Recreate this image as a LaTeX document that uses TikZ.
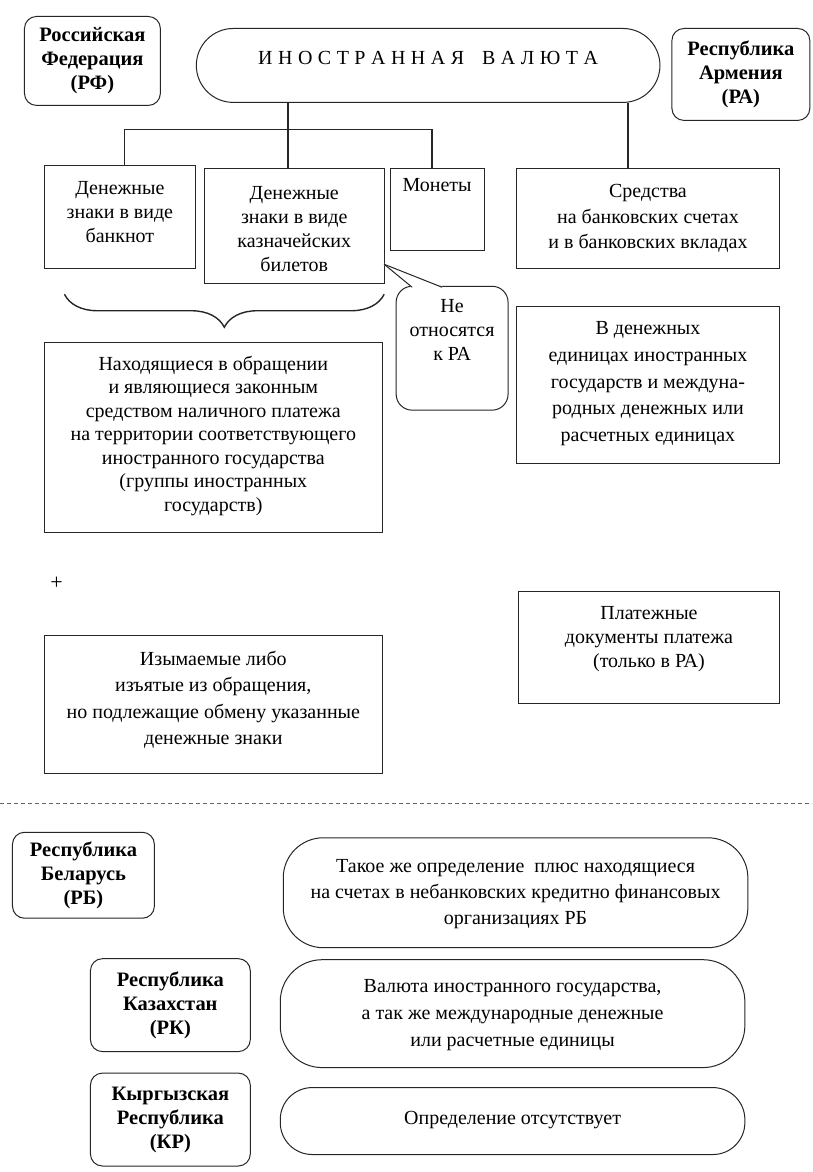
\documentclass[tikz,border=0pt]{standalone}
\usepackage{fontspec}
\setmainfont{Liberation Serif}
\usetikzlibrary{decorations.pathreplacing,calc}
\newcommand\myfs{\fontsize{20}{24}\selectfont}
\newcommand\myfsb{\fontsize{20.5}{24}\selectfont\bfseries}
\begin{document}
\begin{tikzpicture}[x=1pt,y=-1pt,
  every path/.style={line width=1pt, draw=black!85},
  box/.style={draw, line width=1pt, align=center, inner sep=0pt, font=\myfs},
  cbox/.style={draw, line width=1pt, align=center, inner sep=0pt, font=\myfsb, rounded corners=12pt},
  txt/.style={align=center, inner sep=0pt, font=\myfs},
  pill/.style={draw, line width=1pt, align=center, inner sep=0pt, font=\myfs},
  conn/.style={line width=1.6pt, draw=black!85}]
\useasboundingbox (0,0) rectangle (812,1172);
\fill[white] (0,0) rectangle (812,1172);

% country boxes
\node[cbox, minimum width=136, minimum height=89] (rf) at (92,60.5) {Российская\\Федерация\\(РФ)};
\node[cbox, minimum width=138, minimum height=92] (ra) at (741,74) {Республика\\Армения\\(РА)};

% title
\node[pill, rounded corners=37pt, minimum width=464, minimum height=74] (title) at (428,65) {};
\node[txt] (titletxt) at (428,58) {И\hspace{5.5pt}Н\hspace{5.5pt}О\hspace{5.5pt}С\hspace{5.5pt}Т\hspace{5.5pt}Р\hspace{5.5pt}А\hspace{5.5pt}Н\hspace{5.5pt}Н\hspace{5.5pt}А\hspace{5.5pt}Я\hspace{18pt}В\hspace{5.5pt}А\hspace{5.5pt}Л\hspace{5.5pt}Ю\hspace{5.5pt}Т\hspace{5.5pt}А};

% first row boxes
\node[box, minimum width=151, minimum height=103] (b1) at (119.5,216.5) {};
\node[txt] (b1t) at (119.5,212) {Денежные\\знаки в виде\\банкнот};
\node[box, minimum width=180, minimum height=115] (b2) at (294,225.5) {};
\node[txt] (b2t) at (294,228.5) {Денежные\\знаки в виде\\казначейских\\билетов};
\node[box, minimum width=94, minimum height=82] (b3) at (437,209) {};
\node[txt] (b3t) at (437,185) {Монеты};
\node[box, minimum width=264, minimum height=100] (b4) at (648,218) {};
\node[txt, font=\fontsize{20}{26}\selectfont] (b4t) at (648,218) {Средства\\на банковских счетах\\и в банковских вкладах};

% tree connectors
\coordinate (j) at (288,129);
\coordinate (jl) at (124,129);
\coordinate (jr) at (432,129);
\coordinate (jra) at (628,129);
\draw[conn] (title.south -| j) -- (j |- b2.north);
\draw[conn] (jl) -- (jr);
\draw[conn] (jl) -- (jl |- b1.north);
\draw[conn] (jr) -- (jr |- b3.north);
\draw[conn] (title.south -| jra) -- (jra |- b4.north);

% callout
\node[box, rounded corners=16pt, minimum width=112, minimum height=124] (call) at (452,348) {};
\node[txt] (callt) at (452,330) {Не\\относятся\\к РА};
\coordinate (tip) at (384,264);
\coordinate (pa) at (412,287);
\coordinate (pb) at (442,287);
\fill[white] (tip) -- (pa) -- (pb) -- cycle;
\draw (tip) -- (pa);
\draw (tip) -- (pb);

% brace
\coordinate (brl) at (64,294);
\coordinate (brr) at (384,294);
\draw[line width=1.4pt, decorate, decoration={brace, mirror, amplitude=33pt, aspect=0.5}] (brl) -- (brr);

% lower boxes
\node[box, minimum width=338, minimum height=190] (b5) at (213,437.5) {};
\node[txt, font=\fontsize{20}{23.5}\selectfont] (b5t) at (213,435.5) {Находящиеся в обращении\\и являющиеся законным\\средством наличного платежа\\на территории соответствующего\\иностранного государства\\(группы иностранных\\государств)};
\node[box, minimum width=264, minimum height=157] (b6) at (648,385) {};
\node[txt, font=\fontsize{20}{26.8}\selectfont] (b6t) at (648,383.5) {В денежных\\единицах иностранных\\государств и междуна-\\родных денежных или\\расчетных единицах};

\node[txt, font=\fontsize{22}{24}\selectfont] (plus) at (56,583) {+};

\node[box, minimum width=338, minimum height=138] (b7) at (213,705) {};
\node[txt, font=\fontsize{20}{26.5}\selectfont] (b7t) at (213,700) {Изымаемые либо\\изъятые из обращения,\\но подлежащие обмену указанные\\денежные знаки};
\node[box, minimum width=262, minimum height=112] (b8) at (649,647.5) {};
\node[txt] (b8t) at (649,639) {Платежные\\документы платежа\\(только в РА)};

% dashed separator
\coordinate (dl) at (0,804);
\coordinate (dr) at (812,804);
\draw[line width=0.8pt, draw=black!60, dash pattern=on 4pt off 3pt] (dl) -- (dr);

% bottom section
\node[cbox, minimum width=142, minimum height=86] (rb) at (83,875.5) {Республика\\Беларусь\\(РБ)};
\node[pill, rounded corners=40pt, minimum width=465, minimum height=110] (p1) at (515.5,893) {};
\node[txt, font=\fontsize{20}{26}\selectfont] (p1t) at (515.5,894) {Такое же определение\ \ плюс находящиеся\\на счетах в небанковских кредитно финансовых\\организациях РБ};

\node[cbox, minimum width=160, minimum height=93] (rk) at (170,1005.5) {Республика\\Казахстан\\(РК)};
\node[pill, rounded corners=42pt, minimum width=465, minimum height=108] (p2) at (512.5,1014) {};
\node[txt, font=\fontsize{20}{27}\selectfont] (p2t) at (512.5,1015) {Валюта иностранного государства,\\а так же международные денежные\\или расчетные единицы};

\node[cbox, minimum width=160, minimum height=93] (kr) at (170,1120) {Кыргызская\\Республика\\(КР)};
\node[pill, rounded corners=32pt, minimum width=465, minimum height=67] (p3) at (512.5,1121.5) {};
\node[txt] (p3t) at (512.5,1120) {Определение отсутствует};
\end{tikzpicture}
\end{document}
